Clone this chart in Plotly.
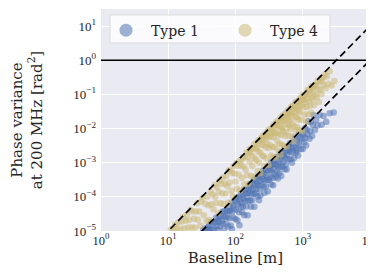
import plotly.graph_objects as go

# ---------------- data (log10 units) ----------------
type1_log_baseline = [
    1.52, 1.55, 1.57, 1.59, 1.60,
    1.61, 1.62, 1.64, 1.65, 1.67, 1.68, 1.70,
    1.71, 1.72, 1.73, 1.74, 1.75, 1.76, 1.77, 1.78, 1.80,
    1.81, 1.81, 1.82, 1.83, 1.84, 1.85, 1.86, 1.87, 1.88, 1.89, 1.90,
    1.91, 1.91, 1.92, 1.93, 1.94, 1.95, 1.95, 1.96, 1.97, 1.98, 1.99, 2.00,
    2.01, 2.01, 2.02, 2.03, 2.04, 2.05, 2.05, 2.06, 2.07, 2.08, 2.08, 2.09, 2.10,
    2.11, 2.11, 2.12, 2.13, 2.13, 2.14, 2.15, 2.16, 2.16, 2.17, 2.18, 2.18, 2.19, 2.20,
    2.21, 2.21, 2.22, 2.23, 2.23, 2.24, 2.25, 2.25, 2.26, 2.27, 2.27, 2.28, 2.29, 2.30,
    2.31, 2.31, 2.32, 2.33, 2.33, 2.34, 2.35, 2.35, 2.36, 2.37, 2.37, 2.38, 2.39, 2.40,
    2.41, 2.41, 2.42, 2.43, 2.43, 2.44, 2.45, 2.45, 2.46, 2.47, 2.47, 2.48, 2.49, 2.50,
    2.51, 2.51, 2.52, 2.53, 2.53, 2.54, 2.55, 2.55, 2.56, 2.57, 2.57, 2.58, 2.59, 2.60,
    2.61, 2.61, 2.62, 2.63, 2.63, 2.64, 2.65, 2.65, 2.66, 2.67, 2.67, 2.68, 2.69, 2.70,
    2.71, 2.71, 2.72, 2.73, 2.74, 2.74, 2.75, 2.76, 2.76, 2.77, 2.78, 2.79, 2.80,
    2.81, 2.81, 2.82, 2.83, 2.84, 2.85, 2.85, 2.86, 2.87, 2.88, 2.89, 2.90,
    2.91, 2.91, 2.92, 2.93, 2.94, 2.95, 2.96, 2.97, 2.98, 2.99, 3.00,
    3.01, 3.02, 3.03, 3.04, 3.05, 3.06, 3.07, 3.08, 3.10,
    3.11, 3.12, 3.14, 3.15, 3.16, 3.18, 3.20,
    3.22, 3.25, 3.28, 3.31, 3.35, 3.40, 3.46,
]
type1_log_variance = [
    -4.96, -4.92, -4.98, -4.88, -4.96,
    -4.83, -4.96, -4.74, -4.95, -4.76, -4.94, -4.75,
    -4.61, -4.86, -4.69, -4.97, -4.58, -4.73, -4.86, -4.56, -4.70,
    -4.43, -4.78, -4.56, -4.94, -4.42, -4.60, -4.78, -4.41, -4.59, -4.87, -4.42,
    -4.28, -4.63, -4.41, -4.84, -4.17, -4.45, -4.95, -4.26, -4.61, -4.34, -4.10, -4.65,
    -4.03, -4.38, -4.16, -4.69, -4.22, -4.00, -4.45, -4.83, -4.08, -4.29, -3.92, -4.17, -4.45,
    -3.93, -4.28, -4.06, -3.79, -4.54, -4.12, -3.90, -4.28, -3.78, -4.01, -4.54, -3.89, -4.12, -3.72,
    -3.88, -3.63, -4.11, -3.74, -4.29, -3.92, -3.62, -4.10, -3.78, -3.51, -3.91, -4.29, -3.64, -3.90,
    -3.48, -3.78, -3.61, -3.99, -3.39, -3.67, -4.10, -3.45, -3.78, -3.54, -3.96, -3.32, -3.64, -3.40,
    -3.48, -3.23, -3.71, -3.32, -3.89, -3.52, -3.20, -3.70, -3.36, -3.51, -3.11, -3.84, -3.22, -3.50,
    -3.10, -3.43, -3.21, -3.64, -2.99, -3.27, -3.45, -3.05, -3.66, -3.16, -2.94, -3.34, -3.04, -3.42,
    -3.08, -2.83, -3.26, -2.94, -3.46, -3.12, -2.80, -3.30, -2.96, -3.11, -2.70, -3.39, -2.80, -3.12,
    -2.70, -2.98, -2.81, -3.19, -2.57, -2.87, -3.05, -2.66, -3.20, -2.76, -2.52, -2.90, -2.62,
    -2.68, -2.43, -2.91, -2.54, -3.00, -2.40, -2.70, -2.53, -2.86, -2.26, -2.57, -2.70,
    -2.33, -2.63, -2.44, -2.79, -2.17, -2.48, -2.28, -2.61, -2.14, -2.32, -2.60,
    -2.18, -2.41, -1.99, -2.27, -2.50, -2.03, -2.16, -1.79, -2.30,
    -2.08, -1.81, -2.22, -1.90, -1.60, -2.04, -1.75,
    -1.91, -1.60, -1.89, -1.63, -1.80, -1.55, -1.53,
]

type4_log_baseline = [
    1.04, 1.08, 1.10, 1.13, 1.15, 1.18, 1.20, 1.22, 1.24, 1.26, 1.28, 1.30,
    1.31, 1.33, 1.35, 1.36, 1.38, 1.40, 1.41, 1.43, 1.44, 1.46, 1.48, 1.49,
    1.51, 1.53, 1.55, 1.57, 1.58, 1.60,
    1.61, 1.63, 1.64, 1.66, 1.67, 1.69, 1.70,
    1.71, 1.72, 1.74, 1.75, 1.76, 1.78, 1.79, 1.80,
    1.81, 1.82, 1.84, 1.85, 1.86, 1.88, 1.89, 1.90,
    1.91, 1.92, 1.94, 1.95, 1.96, 1.97, 1.99, 2.00,
    2.01, 2.02, 2.03, 2.05, 2.06, 2.07, 2.08, 2.09, 2.10,
    2.11, 2.12, 2.13, 2.14, 2.15, 2.16, 2.17, 2.18, 2.19, 2.20,
    2.21, 2.21, 2.22, 2.23, 2.24, 2.25, 2.25, 2.26, 2.27, 2.28, 2.29, 2.30,
    2.31, 2.31, 2.32, 2.33, 2.34, 2.34, 2.35, 2.36, 2.37, 2.37, 2.38, 2.39, 2.40, 2.40,
    2.41, 2.41, 2.42, 2.43, 2.43, 2.44, 2.45, 2.45, 2.46, 2.47, 2.47, 2.48, 2.49, 2.49, 2.50,
    2.51, 2.51, 2.52, 2.53, 2.53, 2.54, 2.55, 2.55, 2.56, 2.56, 2.57, 2.58, 2.58, 2.59, 2.60, 2.60,
    2.61, 2.61, 2.62, 2.62, 2.63, 2.64, 2.64, 2.65, 2.65, 2.66, 2.67, 2.67, 2.68, 2.68, 2.69, 2.69, 2.70, 2.70,
    2.71, 2.71, 2.72, 2.72, 2.73, 2.74, 2.74, 2.75, 2.75, 2.76, 2.76, 2.77, 2.78, 2.78, 2.79, 2.79, 2.80, 2.80,
    2.81, 2.81, 2.82, 2.82, 2.83, 2.84, 2.84, 2.85, 2.85, 2.86, 2.86, 2.87, 2.88, 2.88, 2.89, 2.89, 2.90, 2.90,
    2.91, 2.91, 2.92, 2.92, 2.93, 2.94, 2.94, 2.95, 2.95, 2.96, 2.96, 2.97, 2.98, 2.98, 2.99, 2.99, 3.00,
    3.01, 3.01, 3.02, 3.03, 3.03, 3.04, 3.05, 3.05, 3.06, 3.07, 3.07, 3.08, 3.09, 3.09, 3.10,
    3.11, 3.11, 3.12, 3.13, 3.13, 3.14, 3.15, 3.15, 3.16, 3.17, 3.18, 3.19, 3.20,
    3.21, 3.22, 3.23, 3.24, 3.25, 3.26, 3.27, 3.28, 3.29, 3.30,
    3.31, 3.33, 3.34, 3.36, 3.38, 3.40, 3.43, 3.47,
]
type4_log_variance = [
    -4.95, -4.94, -4.82, -4.94, -4.75, -4.94, -4.72, -4.58, -4.92, -4.70, -4.52, -4.90,
    -4.68, -4.38, -4.90, -4.43, -4.64, -4.90, -4.43, -4.19, -4.67, -4.43, -4.84, -4.14,
    -4.03, -4.54, -4.20, -4.71, -3.99, -4.25,
    -4.68, -3.84, -4.22, -3.93, -4.36, -3.65, -4.00,
    -4.18, -3.71, -4.47, -3.85, -3.53, -4.19, -3.62, -3.90,
    -3.43, -4.21, -3.62, -3.90, -3.40, -3.69, -4.17, -3.22,
    -3.58, -3.24, -3.82, -3.30, -3.98, -3.10, -3.32, -3.55,
    -3.01, -3.76, -3.09, -3.35, -2.94, -3.81, -3.09, -2.92, -3.45,
    -2.83, -3.11, -3.64, -2.84, -3.20, -2.70, -3.36, -2.84, -3.62, -2.68,
    -2.61, -2.98, -2.71, -3.39, -2.58, -2.80, -3.10, -2.58, -3.41, -2.46, -2.87, -2.60,
    -2.43, -2.93, -2.56, -3.24, -2.34, -2.67, -3.00, -2.38, -2.71, -3.31, -2.28, -2.47, -2.80, -2.32,
    -2.21, -2.48, -2.81, -2.24, -3.09, -2.32, -2.55, -2.15, -2.88, -2.21, -2.44, -2.06, -2.57, -3.07, -2.25,
    -2.02, -2.48, -2.14, -2.79, -2.24, -2.00, -2.55, -2.12, -1.90, -2.83, -2.26, -1.96, -2.54, -2.12, -1.85, -2.85,
    -1.81, -2.13, -2.36, -1.91, -2.64, -1.77, -2.17, -1.95, -2.45, -1.78, -1.68, -2.76, -1.99, -2.19, -1.80, -2.47, -1.66, -2.00,
    -1.60, -2.08, -1.76, -2.51, -1.64, -1.87, -2.22, -1.54, -2.10, -1.73, -2.53, -1.58, -1.89, -1.47, -1.72, -2.22, -1.55, -1.95,
    -1.43, -1.78, -2.01, -1.56, -1.36, -2.22, -1.62, -1.40, -1.85, -1.32, -2.38, -1.51, -1.94, -1.39, -1.67, -1.24, -2.05, -1.50,
    -1.21, -1.68, -1.36, -1.96, -1.24, -1.47, -1.74, -1.14, -2.05, -1.33, -1.53, -1.18, -1.06, -1.74, -1.32, -2.07, -1.15,
    -1.02, -1.38, -1.16, -1.59, -1.00, -1.22, -1.80, -1.02, -1.38, -0.88, -1.11, -1.59, -0.92, -1.22, -0.85,
    -0.98, -1.33, -0.79, -1.09, -1.54, -0.82, -1.15, -0.75, -0.93, -1.31, -0.72, -1.02, -0.75,
    -1.08, -0.61, -0.84, -1.22, -0.62, -0.88, -0.52, -0.99, -0.62, -0.50,
    -0.73, -0.42, -0.82, -0.48, -0.69, -0.32, -0.74, -0.61,
]

series_names = ["Type 1", "Type 4"]
series_colors = ["#4C72B0", "#CCB974"]

# reference scaling lines: variance = coeff * baseline^2
ref_line_coeffs = [1e-7, 1e-8]
ref_line_baselines = [1.0, 1e4]
threshold_variance = 1.0

x_tickvals = [1, 10, 100, 1000, 10000]
x_ticktext = ["10<sup>0</sup>", "10<sup>1</sup>", "10<sup>2</sup>", "10<sup>3</sup>", "10<sup>4</sup>"]
y_tickvals = [1e-5, 1e-4, 1e-3, 1e-2, 1e-1, 1, 10]
y_ticktext = ["10<sup>−5</sup>", "10<sup>−4</sup>", "10<sup>−3</sup>", "10<sup>−2</sup>",
              "10<sup>−1</sup>", "10<sup>0</sup>", "10<sup>1</sup>"]

FONT = "DejaVu Serif, serif"
TICKFONT = "Liberation Serif, serif"
TXT = "#262626"

fig = go.Figure()

series = [
    (type1_log_baseline, type1_log_variance),
    (type4_log_baseline, type4_log_variance),
]
for (lb, lv), name, color in zip(series, series_names, series_colors):
    fig.add_trace(go.Scatter(
        x=[10 ** v for v in lb], y=[10 ** v for v in lv],
        mode="markers", name=name, showlegend=False,
        marker=dict(size=6.5, color=color, opacity=0.52, line=dict(width=0)),
    ))

for c in ref_line_coeffs:
    fig.add_trace(go.Scatter(
        x=ref_line_baselines, y=[c * b ** 2 for b in ref_line_baselines],
        mode="lines", showlegend=False,
        line=dict(color="black", width=1.7, dash="7px,4px"),
    ))

fig.add_hline(y=threshold_variance, line=dict(color="black", width=1.6))

# legend entries
for name, color in zip(series_names, series_colors):
    fig.add_trace(go.Scatter(
        x=[None], y=[None], mode="markers", name=name,
        marker=dict(size=13, color=color, opacity=0.55, line=dict(width=0)),
    ))

# legend frame (matplotlib-style box)
fig.add_shape(type="rect", xref="paper", yref="paper",
              x0=0.0335, x1=0.851, y0=0.847, y1=0.973,
              fillcolor="rgba(255,255,255,0.8)", line=dict(color="#dcdcdc", width=1),
              layer="above")

axis_common = dict(
    type="log", showgrid=True, gridcolor="white", gridwidth=1,
    zeroline=False, showline=False, ticks="",
    tickfont=dict(family=TICKFONT, size=13, color=TXT),
)
fig.update_xaxes(range=[0, 4], tickvals=x_tickvals, ticktext=x_ticktext,
                 tickfont=dict(family=TICKFONT, size=12.5, color=TXT),
                 title=dict(text="Baseline [m]", font=dict(family=FONT, size=15, color=TXT),
                            standoff=5),
                 **{k: v for k, v in axis_common.items() if k != "tickfont"})
fig.update_yaxes(range=[-5, 1.5], tickvals=y_tickvals, ticktext=y_ticktext,
                 ticklabelstandoff=4,
                 title=dict(text="Phase variance<br>at 200 MHz [rad<sup>2</sup>]",
                            font=dict(family=FONT, size=15, color=TXT), standoff=27),
                 **axis_common)

fig.update_layout(
    width=374, height=280,
    margin=dict(l=93, r=12, t=1, b=57),
    plot_bgcolor="#EAEAF2", paper_bgcolor="white",
    font=dict(family=FONT, color=TXT),
    legend=dict(orientation="h", x=0.0, y=0.975, xanchor="left", yanchor="top",
                bgcolor="rgba(0,0,0,0)", borderwidth=0,
                font=dict(family=FONT, size=14, color=TXT),
                itemwidth=40,
                entrywidth=64, entrywidthmode="pixels", itemsizing="trace"),
)

fig.write_html("out.html")
